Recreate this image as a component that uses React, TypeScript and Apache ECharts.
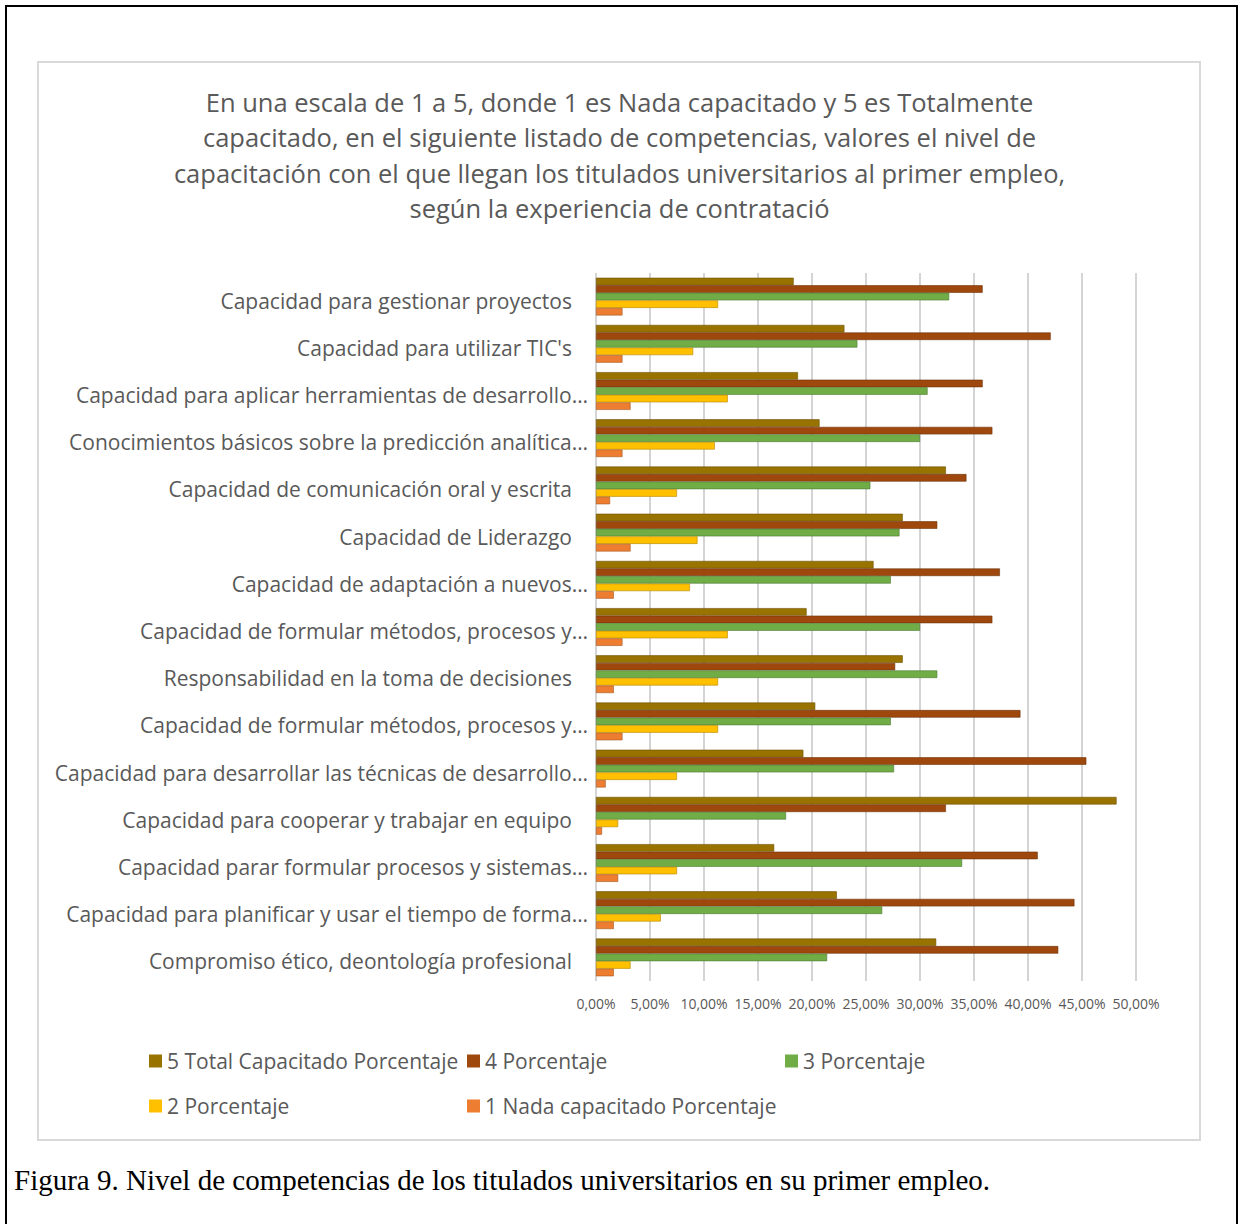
import React, { useEffect, useRef } from "react";
import * as echarts from "echarts";

const categories = [
  "Capacidad para gestionar proyectos",
  "Capacidad para utilizar TIC's",
  "Capacidad para aplicar herramientas de desarrollo…",
  "Conocimientos básicos sobre la predicción analítica…",
  "Capacidad de comunicación oral y escrita",
  "Capacidad de Liderazgo",
  "Capacidad de adaptación a nuevos…",
  "Capacidad de formular métodos, procesos y…",
  "Responsabilidad en la toma de decisiones",
  "Capacidad de formular métodos, procesos y…",
  "Capacidad para desarrollar las técnicas de desarrollo…",
  "Capacidad para cooperar y trabajar en equipo",
  "Capacidad parar formular procesos y sistemas…",
  "Capacidad para planificar y usar el tiempo de forma…",
  "Compromiso ético, deontología profesional",
];

const seriesNames = [
  "5 Total Capacitado Porcentaje",
  "4 Porcentaje",
  "3 Porcentaje",
  "2 Porcentaje",
  "1 Nada capacitado Porcentaje",
];

const total5 = [18.3, 23.0, 18.7, 20.7, 32.4, 28.4, 25.7, 19.5, 28.4, 20.3, 19.2, 48.2, 16.5, 22.3, 31.5];
const pct4 = [35.8, 42.1, 35.8, 36.7, 34.3, 31.6, 37.4, 36.7, 27.7, 39.3, 45.4, 32.4, 40.9, 44.3, 42.8];
const pct3 = [32.7, 24.2, 30.7, 30.0, 25.4, 28.1, 27.3, 30.0, 31.6, 27.3, 27.6, 17.6, 33.9, 26.5, 21.4];
const pct2 = [11.3, 9.0, 12.2, 11.0, 7.5, 9.4, 8.7, 12.2, 11.3, 11.3, 7.5, 2.05, 7.5, 6.0, 3.2];
const nada1 = [2.45, 2.45, 3.2, 2.45, 1.3, 3.2, 1.65, 2.45, 1.65, 2.45, 0.9, 0.56, 2.05, 1.65, 1.65];

const xTicks = [0, 5, 10, 15, 20, 25, 30, 35, 40, 45, 50];

const colors = ["#997300", "#9E480E", "#70AD47", "#FFC000", "#ED7D31"];
const edgeColors = ["#6b5000", "#6e3209", "#4e7932", "#b38600", "#a65722"];

const titleText =
  "En una escala de 1 a 5, donde 1 es Nada capacitado y 5 es Totalmente\ncapacitado, en el siguiente listado de competencias, valores el nivel de\ncapacitación con el que llegan los titulados universitarios al primer empleo,\nsegún la experiencia de contratació";

const caption = "Figura 9. Nivel de competencias de los titulados universitarios en su primer empleo.";

const FONT = "'Open Sans', 'Noto Sans', sans-serif";

export default function App() {
  const ref = useRef<HTMLDivElement>(null);

  useEffect(() => {
    document.body.style.margin = "0";
    if (!ref.current) return;
    const chart = echarts.init(ref.current, null, { renderer: "svg" });
    const dataSets = [total5, pct4, pct3, pct2, nada1];

    const legendPos = [
      [149, 1049],
      [467, 1049],
      [785, 1049],
      [149, 1094],
      [467, 1094],
    ];

    const option: any = {
      animation: false,
      backgroundColor: "#ffffff",
      title: {
        text: titleText,
        left: "center",
        top: 84,
        padding: 0,
        textStyle: {
          fontFamily: FONT,
          fontSize: 25.5,
          fontWeight: "normal",
          color: "#595959",
          lineHeight: 35.5,
        },
      },
      legend: seriesNames.map((n, i) => ({
        data: [n],
        left: legendPos[i][0],
        top: legendPos[i][1],
        padding: 0,
        itemWidth: 13,
        itemHeight: 13,
        icon: "rect",
        itemStyle: { borderWidth: 0 },
        textStyle: {
          fontFamily: FONT,
          fontSize: 21,
          color: "#595959",
          lineHeight: 24,
        },
      })),
      grid: {
        left: 596,
        right: 103,
        top: 273,
        bottom: 243,
        containLabel: false,
      },
      xAxis: {
        type: "value",
        min: 0,
        max: 50,
        interval: 5,
        axisLine: { show: false },
        axisTick: { show: false },
        axisLabel: {
          margin: 15,
          fontFamily: FONT,
          fontSize: 14,
          color: "#595959",
          formatter: (v: number) => `${v.toFixed(2).replace(".", ",")}%`,
          customValues: xTicks,
        },
        splitLine: {
          show: true,
          lineStyle: { color: "#d4d4d4", width: 2 },
        },
      },
      yAxis: {
        type: "category",
        data: categories,
        inverse: true,
        axisLine: { show: false },
        axisTick: { show: false },
        axisLabel: {
          margin: 8,
          interval: 0,
          formatter: (v: string) => (v.endsWith("…") ? `{t|${v}}` : `{p|${v}}`),
          rich: {
            t: { fontFamily: FONT, fontSize: 21, color: "#595959", padding: [8, 0, 0, 0] },
            p: { fontFamily: FONT, fontSize: 21, color: "#595959", padding: [8, 16, 0, 0] },
          },
        },
      },
      series: seriesNames.map((n, i) => ({
        name: n,
        type: "bar",
        data: dataSets[i],
        barGap: "0%",
        barCategoryGap: "20%",
        itemStyle: {
          color: colors[i],
          borderColor: edgeColors[i],
          borderWidth: 0.6,
        },
      })),
      graphic: [
        {
          type: "rect",
          shape: { x: 6, y: 6, width: 1231, height: 1240 },
          style: { fill: "none", stroke: "#000", lineWidth: 2 },
          silent: true,
          z: 100,
        },
        {
          type: "rect",
          shape: { x: 38, y: 62, width: 1162, height: 1078 },
          style: { fill: "none", stroke: "#d9d9d9", lineWidth: 2 },
          silent: true,
        },
        {
          type: "text",
          x: 14,
          y: 1180,
          style: {
            text: caption,
            font: "29px 'Liberation Serif', 'Times New Roman', serif",
            fill: "#000",
            textVerticalAlign: "middle",
            verticalAlign: "middle",
          },
        },
      ],
    };
    chart.setOption(option);
    return () => chart.dispose();
  }, []);

  return <div ref={ref} style={{ width: 1239, height: 1224 }} />;
}
